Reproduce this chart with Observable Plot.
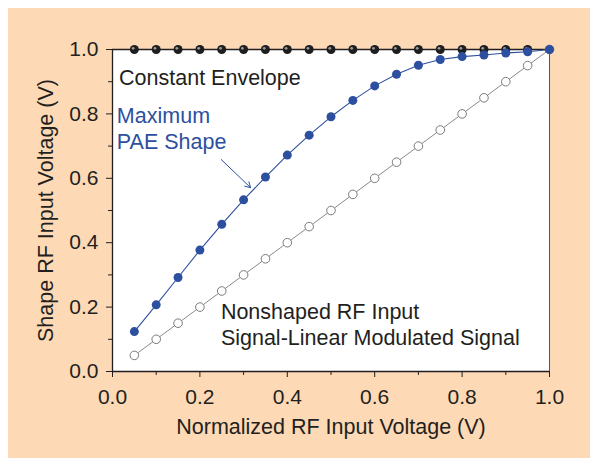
<!DOCTYPE html>
<html>
<head>
<meta charset="utf-8">
<script src="https://cdn.jsdelivr.net/npm/d3@7"></script>
<script src="https://cdn.jsdelivr.net/npm/@observablehq/plot@0.6"></script>
<style>
  html, body { margin: 0; padding: 0; background: #ffffff; }
  #wrap { position: relative; width: 592px; height: 461px; }
  #bg { position: absolute; left: 8px; top: 8px; width: 582px; height: 450px; background: #FDD9B5; }
  #chart { position: absolute; left: 0; top: 0; }
  #chart svg { background: transparent; font-family: "Liberation Sans", Arial, Helvetica, sans-serif; }
</style>
</head>
<body>
<div id="wrap"><div id="bg"></div><div id="chart"></div></div>
<script>
// Input voltage samples (x)
const inputVoltage = [0.05, 0.10, 0.15, 0.20, 0.25, 0.30, 0.35, 0.40, 0.45, 0.50, 0.55, 0.60, 0.65, 0.70, 0.75, 0.80, 0.85, 0.90, 0.95, 1.00];
// Maximum PAE shape (blue filled)
const paeShape = [0.124, 0.207, 0.292, 0.377, 0.457, 0.533, 0.604, 0.672, 0.734, 0.791, 0.842, 0.887, 0.923, 0.951, 0.969, 0.978, 0.983, 0.989, 0.993, 1.000];
// Nonshaped linear (open circles)
const linearShape = [0.05, 0.10, 0.15, 0.20, 0.25, 0.30, 0.35, 0.40, 0.45, 0.50, 0.55, 0.60, 0.65, 0.70, 0.75, 0.80, 0.85, 0.90, 0.95, 1.00];
// Constant envelope (black)
const constantX = [0.05, 0.10, 0.15, 0.20, 0.25, 0.30, 0.35, 0.40, 0.45, 0.50, 0.55, 0.60, 0.65, 0.70, 0.75, 0.80, 0.85, 0.90, 0.95];
const constantY = [1, 1, 1, 1, 1, 1, 1, 1, 1, 1, 1, 1, 1, 1, 1, 1, 1, 1, 1];

const majorTicks = [0, 0.2, 0.4, 0.6, 0.8, 1.0];
const minorTicks = [0.1, 0.3, 0.5, 0.7, 0.9];

const xLabel = "Normalized RF Input Voltage (V)";
const yLabel = "Shape RF Input Voltage (V)";

const annotations = [
  {x: 0.015, y: 0.910, text: "Constant Envelope", color: "#231f20"},
  {x: 0.010, y: 0.792, text: "Maximum", color: "#2D4F9F"},
  {x: 0.010, y: 0.712, text: "PAE Shape", color: "#2D4F9F"},
  {x: 0.248, y: 0.184, text: "Nonshaped RF Input", color: "#231f20"},
  {x: 0.248, y: 0.103, text: "Signal-Linear Modulated Signal", color: "#231f20"}
];
const arrow = [{x1: 0.249, y1: 0.658, x2: 0.316, y2: 0.571}];

const pae = inputVoltage.map((x, i) => ({x, y: paeShape[i]}));
const lin = inputVoltage.map((x, i) => ({x, y: linearShape[i]}));
const cons = constantX.map((x, i) => ({x, y: constantY[i]}));

const ink = "#231f20";
const fsTick = 21;
const fsText = 21.5;

const chart = Plot.plot({
  width: 592,
  height: 461,
  marginLeft: 112,
  marginRight: 43,
  marginTop: 49,
  marginBottom: 90,
  style: {background: "transparent", fontFamily: "'Liberation Sans', Arial, Helvetica, sans-serif", color: ink},
  x: {domain: [0, 1]},
  y: {domain: [0, 1]},
  marks: [
    Plot.frame({fill: "white", stroke: "none"}),
    Plot.ruleX([1], {stroke: "#555", strokeWidth: 1}),
    Plot.ruleY([1], {stroke: ink, strokeWidth: 1.5}),
    Plot.ruleX([0], {stroke: ink, strokeWidth: 1.3}),
    Plot.ruleY([0], {stroke: ink, strokeWidth: 1.3}),
    Plot.axisX({ticks: majorTicks, tickSize: 6, tickPadding: 12, tickFormat: d => d.toFixed(1), fontSize: fsTick, stroke: ink, fill: ink,
      label: xLabel, labelAnchor: "center", labelArrow: "none", labelOffset: 62}),
    Plot.axisX({ticks: minorTicks, tickSize: 4, tickFormat: () => "", label: null, stroke: ink}),
    Plot.axisY({ticks: majorTicks, tickSize: 6, tickPadding: 8, tickFormat: d => d.toFixed(1), fontSize: fsTick, stroke: ink, fill: ink,
      label: yLabel, labelAnchor: "center", labelArrow: "none", labelOffset: 75}),
    Plot.axisY({ticks: minorTicks, tickSize: 4, tickFormat: () => "", label: null, stroke: ink}),
    Plot.line(lin, {x: "x", y: "y", stroke: "#8a8a8a", strokeWidth: 1}),
    Plot.dot(lin, {x: "x", y: "y", r: 4.3, fill: "white", stroke: "#7a7a7a", strokeWidth: 1}),
    Plot.dot(cons, {x: "x", y: "y", r: 4.5, fill: "#1e1e1e"}),
    Plot.dot(cons, {x: "x", y: "y", r: 1.4, fill: "#9a9a9a", dx: -1.2, dy: -1.2}),
    Plot.line(pae, {x: "x", y: "y", stroke: "#2D4F9F", strokeWidth: 1.1}),
    Plot.dot(pae, {x: "x", y: "y", r: 4.5, fill: "#2D4F9F"}),
    Plot.arrow(arrow, {x1: "x1", y1: "y1", x2: "x2", y2: "y2", stroke: "#2D4F9F", strokeWidth: 1, headLength: 9}),
    Plot.text(annotations, {x: "x", y: "y", text: "text", fill: "color", textAnchor: "start", fontSize: fsText})
  ]
});
document.getElementById("chart").appendChild(chart);
// axis titles share the annotation size; tick labels get their own size
chart.querySelectorAll("g[aria-label='x-axis label'] text, g[aria-label='y-axis label'] text").forEach(t => t.setAttribute("font-size", fsText));
chart.querySelectorAll("g[aria-label='x-axis tick label'] text, g[aria-label='y-axis tick label'] text").forEach(t => t.setAttribute("font-size", fsTick));
</script>
</body>
</html>
